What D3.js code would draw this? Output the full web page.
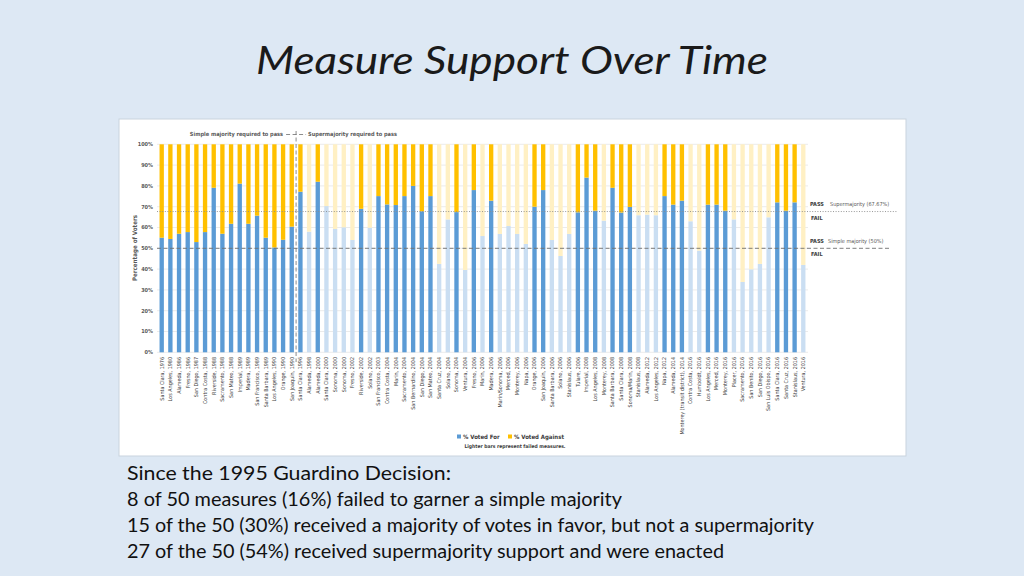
<!DOCTYPE html>
<html>
<head>
<meta charset="utf-8">
<script src="https://cdn.jsdelivr.net/npm/d3@7"></script>
<style>
  html, body { margin: 0; padding: 0; background: #dde8f4; }
  svg { display: block; }
</style>
</head>
<body>
<svg id="chart" width="1024" height="576"></svg>
<script>
// ---------------- DATA ----------------
const categories = [
  "Santa Clara, 1976","Los Angeles, 1980","Alameda, 1986","Fresno, 1986","San Diego, 1987",
  "Contra Costa, 1988","Riverside, 1988","Sacramento, 1988","San Mateo, 1988","Imperial, 1989",
  "Madera, 1989","San Francisco, 1989","Santa Barbara, 1989","Los Angeles, 1990","Orange, 1990",
  "San Joaquin, 1990",
  "Santa Clara, 1996","Alameda, 1998","Alameda, 2000","Santa Clara, 2000","Sonoma, 2000",
  "Sonoma, 2000","Fresno, 2002","Riverside, 2002","Solano, 2002","San Francisco, 2003",
  "Contra Costa, 2004","Marin, 2004","Sacramento, 2004","San Bernardino, 2004","San Diego, 2004",
  "San Mateo, 2004","Santa Cruz, 2004","Solano, 2004","Sonoma, 2004","Ventura, 2004",
  "Fresno, 2006","Marin, 2006","Madera, 2006","Marin/Sonoma, 2006","Merced, 2006",
  "Monterey, 2006","Napa, 2006","Orange, 2006","San Joaquin, 2006","Santa Barbara, 2006",
  "Solano, 2006","Stanislaus, 2006","Tulare, 2006","Imperial, 2008","Los Angeles, 2008",
  "Monterey, 2008","Santa Barbara, 2008","Santa Clara, 2008","Sonoma/Marin, 2008","Stanislaus, 2008",
  "Alameda, 2012","Los Angeles, 2012","Napa, 2012","Alameda, 2014","Monterey (transit district), 2014",
  "Contra Costa, 2016","Humboldt, 2016","Los Angeles, 2016","Merced, 2016","Monterey, 2016",
  "Placer, 2016","Sacramento, 2016","San Benito, 2016","San Diego, 2016","San Luis Obispo, 2016",
  "Santa Clara, 2016","Santa Cruz, 2016","Stanislaus, 2016","Ventura, 2016"
];
// % voted for
const votedFor = [
  55.1, 54.5, 57.0, 57.8, 53.0, 57.8, 79.1, 57.0, 61.8, 81.1,
  61.8, 65.7, 55.1, 50.4, 54.1, 60.4,
  77.2, 58.0, 82.0, 70.3, 59.3, 60.1, 54.0, 69.0, 59.9, 75.1,
  71.1, 70.8, 75.1, 80.0, 67.8, 75.1, 42.5, 63.9, 67.4, 39.6,
  78.0, 55.9, 72.9, 56.9, 60.7, 56.9, 52.1, 70.0, 78.0, 54.0,
  46.3, 56.9, 67.3, 84.0, 68.1, 63.3, 79.1, 67.2, 69.9, 65.9,
  66.2, 65.9, 75.1, 71.0, 72.9, 63.0, 48.9, 71.0, 71.0, 68.1,
  63.9, 33.8, 39.9, 42.5, 64.9, 72.1, 68.1, 72.1, 42.0
];
// 1 = passed (dark bar), 0 = failed (lighter bar)
const passed = [
  1,1,1,1,1,1,1,1,1,1,1,1,1,1,1,1,
  1,0,1,0,0,0,0,1,0,1,
  1,1,1,1,1,1,0,0,1,0,
  1,0,1,0,0,0,0,1,1,0,
  0,0,1,1,1,0,1,1,1,0,
  0,0,1,1,1,0,0,1,1,1,
  0,0,0,0,0,1,1,1,0
];
const yTicks = [0, 10, 20, 30, 40, 50, 60, 70, 80, 90, 100];
const thresholds = [
  { value: 67.67, label: "Supermajority (67.67%)", style: "dotted" },
  { value: 50, label: "Simple majority (50%)", style: "dashed" }
];
const seriesNames = ["% Voted For", "% Voted Against"];
const bodyLines = [
  "Since the 1995 Guardino Decision:",
  "8 of 50 measures (16%) failed to garner a simple majority",
  "15 of the 50 (30%) received a majority of votes in favor, but not a supermajority",
  "27 of the 50 (54%) received supermajority support and were enacted"
];
const eraBreakIndex = 16; // first post-1995 measure

// ---------------- DRAW ----------------
const svg = d3.select("#chart");
const narrow = "'Liberation Sans Narrow','DejaVu Sans Condensed','Liberation Sans',sans-serif";
const textGray = "#595959";

// title
svg.append("text")
  .attr("x", 512).attr("y", 74)
  .attr("text-anchor", "middle")
  .attr("font-family", "Lato, 'Open Sans', sans-serif")
  .attr("font-style", "italic")
  .attr("font-size", 38)
  .attr("fill", "#1a1a1a")
  .attr("textLength", 512).attr("lengthAdjust", "spacingAndGlyphs")
  .text("Measure Support Over Time");

// white chart panel
svg.append("rect")
  .attr("x", 119).attr("y", 119).attr("width", 787).attr("height", 337)
  .attr("fill", "#ffffff").attr("stroke", "#c9d3de").attr("stroke-width", 1);

const x = d3.scaleBand()
  .domain(d3.range(categories.length))
  .range([157.37, 807.62])
  .paddingInner(0.5).paddingOuter(0.25);
const y = d3.scaleLinear().domain([0, 100]).range([352.3, 144.3]);

// gridlines
svg.append("g").selectAll("line").data(yTicks).join("line")
  .attr("x1", 157).attr("x2", 808)
  .attr("y1", d => y(d)).attr("y2", d => y(d))
  .attr("stroke", "#e3e3e3").attr("stroke-width", 0.7);

// y tick labels
svg.append("g").selectAll("text").data(yTicks).join("text")
  .attr("x", 153).attr("y", d => y(d)).attr("dy", "0.35em")
  .attr("text-anchor", "end")
  .attr("font-family", narrow).attr("font-size", 5.5).attr("font-weight", "bold")
  .attr("fill", textGray)
  .text(d => d + "%");

// y axis title
svg.append("text")
  .attr("transform", "translate(135,248) rotate(-90)")
  .attr("text-anchor", "middle").attr("dy", "0.35em")
  .attr("font-family", narrow).attr("font-size", 6.2).attr("font-weight", "bold")
  .attr("fill", textGray)
  .text("Percentage of Voters");

const colors = {
  forPass: "#5b9bd5", againstPass: "#ffc000",
  forFail: "#cadef2", againstFail: "#fff0c4"
};

const data = categories.map((c, i) => ({ i, c, v: votedFor[i], p: passed[i] }));

// voted-for bars
svg.append("g").selectAll("rect").data(data).join("rect")
  .attr("x", d => x(d.i)).attr("width", x.bandwidth())
  .attr("y", d => y(d.v)).attr("height", d => y(0) - y(d.v))
  .attr("fill", d => d.p ? colors.forPass : colors.forFail);
// voted-against bars
svg.append("g").selectAll("rect").data(data).join("rect")
  .attr("x", d => x(d.i)).attr("width", x.bandwidth())
  .attr("y", y(100)).attr("height", d => y(d.v) - y(100))
  .attr("fill", d => d.p ? colors.againstPass : colors.againstFail);

// threshold lines
thresholds.forEach((t, k) => {
  svg.append("line")
    .attr("x1", 157).attr("x2", k === 0 ? 898 : 890)
    .attr("y1", y(t.value)).attr("y2", y(t.value))
    .attr("stroke", t.style === "dotted" ? "#8c8c8c" : "#6f6f6f")
    .attr("stroke-width", t.style === "dotted" ? 0.9 : 0.9)
    .attr("stroke-dasharray", t.style === "dotted" ? "1,1.6" : "4,2.5");
  svg.append("text")
    .attr("x", 810).attr("y", y(t.value) - 5.5)
    .attr("font-family", narrow).attr("font-size", 5.5).attr("font-weight", "bold")
    .attr("fill", "#404040").text("PASS");
  svg.append("text")
    .attr("x", k === 0 ? 830 : 828).attr("y", y(t.value) - 5.5)
    .attr("font-family", narrow).attr("font-size", 5.5)
    .attr("fill", textGray).text(t.label);
  svg.append("text")
    .attr("x", 811).attr("y", y(t.value) + 8)
    .attr("font-family", narrow).attr("font-size", 5.5).attr("font-weight", "bold")
    .attr("fill", "#404040").text("FAIL");
});

// era divider
const divX = (x(eraBreakIndex - 1) + x.bandwidth() + x(eraBreakIndex)) / 2;
svg.append("line")
  .attr("x1", divX).attr("x2", divX).attr("y1", 131).attr("y2", 362)
  .attr("stroke", "#6f6f6f").attr("stroke-width", 0.8).attr("stroke-dasharray", "4,2.5");
svg.append("line")
  .attr("x1", divX - 10).attr("x2", divX + 10).attr("y1", 134.5).attr("y2", 134.5)
  .attr("stroke", "#6f6f6f").attr("stroke-width", 0.8).attr("stroke-dasharray", "4,2.5");
svg.append("text")
  .attr("x", divX - 13).attr("y", 134.5).attr("dy", "0.35em").attr("text-anchor", "end")
  .attr("font-family", narrow).attr("font-size", 5.6).attr("font-weight", "bold")
  .attr("fill", textGray).text("Simple majority required to pass");
svg.append("text")
  .attr("x", divX + 12).attr("y", 134.5).attr("dy", "0.35em")
  .attr("font-family", narrow).attr("font-size", 5.6).attr("font-weight", "bold")
  .attr("fill", textGray).text("Supermajority required to pass");

// x labels
svg.append("g").selectAll("text").data(data).join("text")
  .attr("transform", d => `translate(${x(d.i) + x.bandwidth() / 2},357) rotate(-90)`)
  .attr("text-anchor", "end").attr("dy", "0.35em")
  .attr("font-family", narrow).attr("font-size", 5.4)
  .attr("fill", "#404040")
  .text(d => d.c);

// legend
const lg = svg.append("g");
lg.append("rect").attr("x", 457).attr("y", 434.5).attr("width", 4).attr("height", 4).attr("fill", colors.forPass);
lg.append("text").attr("x", 463).attr("y", 436.5).attr("dy", "0.35em")
  .attr("font-family", narrow).attr("font-size", 6).attr("font-weight", "bold")
  .attr("fill", "#404040").text(seriesNames[0]);
lg.append("rect").attr("x", 508).attr("y", 434.5).attr("width", 4).attr("height", 4).attr("fill", colors.againstPass);
lg.append("text").attr("x", 514).attr("y", 436.5).attr("dy", "0.35em")
  .attr("font-family", narrow).attr("font-size", 6).attr("font-weight", "bold")
  .attr("fill", "#404040").text(seriesNames[1]);
lg.append("text").attr("x", 515).attr("y", 446).attr("dy", "0.35em").attr("text-anchor", "middle")
  .attr("font-family", narrow).attr("font-size", 5).attr("font-weight", "bold")
  .attr("fill", "#404040").text("Lighter bars represent failed measures.");

// body text
const bodyWidths = [324, 495, 687, 597];
svg.append("g").selectAll("text").data(bodyLines).join("text")
  .attr("x", 127).attr("y", (d, i) => 480 + i * 26)
  .attr("font-family", "Lato, 'Open Sans', sans-serif").attr("font-size", 18.5)
  .attr("fill", "#111111")
  .attr("textLength", (d, i) => bodyWidths[i]).attr("lengthAdjust", "spacingAndGlyphs")
  .text(d => d);
</script>
</body>
</html>
